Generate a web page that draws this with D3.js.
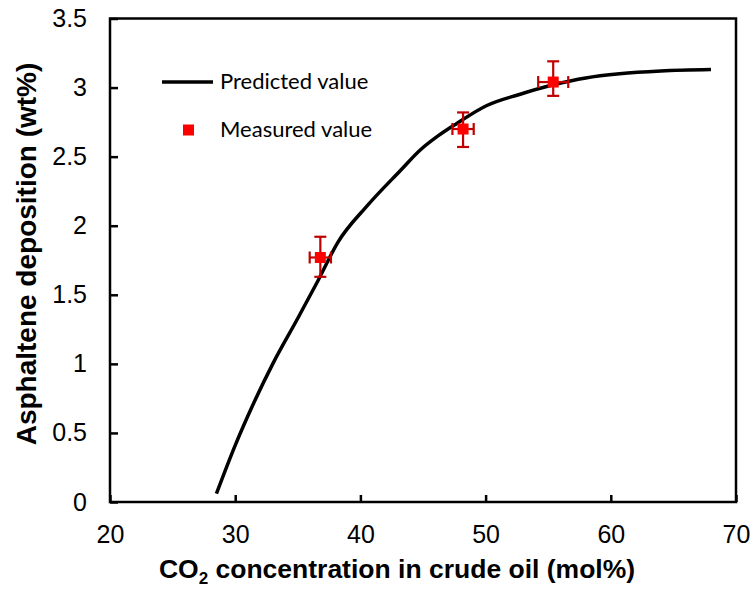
<!DOCTYPE html>
<html>
<head>
<meta charset="utf-8">
<script src="https://cdn.jsdelivr.net/npm/d3@7"></script>
<style>
  body { margin: 0; background: #fff; }
</style>
</head>
<body>
<div id="paper"></div>
<script>
// asphaltene deposition vs CO2 concentration

// predicted curve
const predX = [28.5, 30, 31.5, 33, 35, 36.6, 38.2, 40.5, 43.2, 44.8, 46.2, 47.7, 50.1, 52.7, 55.4, 58, 60.7, 64, 68];
const predY = [0.06, 0.41, 0.72, 1.0, 1.33, 1.6, 1.88, 2.14, 2.4, 2.55, 2.65, 2.74, 2.87, 2.95, 3.02, 3.07, 3.1, 3.12, 3.13];

// measured points with error bars
const measX = [36.8, 48.2, 55.4];
const measY = [1.77, 2.70, 3.04];
const xErr = [0.85, 0.85, 1.2];
const yErrUp = [0.15, 0.12, 0.15];
const yErrDown = [0.14, 0.13, 0.10];

const xTicks = [20, 30, 40, 50, 60, 70];
const yTicks = [0, 0.5, 1, 1.5, 2, 2.5, 3, 3.5];
const yTickLabels = ["0", "0.5", "1", "1.5", "2", "2.5", "3", "3.5"];

const W = 754, H = 592;
const m = { left: 110, right: 18, top: 18.5, bottom: 90 };

const svg = d3.select("#paper")
  .append("svg")
  .attr("width", W)
  .attr("height", H)
  .style("font-family", "Arial, 'Liberation Sans', sans-serif");

const x = d3.scaleLinear().domain([20, 70]).range([m.left, W - m.right]);
const y = d3.scaleLinear().domain([0, 3.5]).range([H - m.bottom, m.top]);

// axes, ticks pointing inwards
const xAxis = svg.append("g")
  .attr("transform", `translate(0,${y(0)})`)
  .call(d3.axisBottom(x).tickValues(xTicks).tickSizeInner(-7).tickSizeOuter(0).tickPadding(23).tickFormat(d3.format("d")));

const yAxis = svg.append("g")
  .attr("transform", `translate(${x(20)},0)`)
  .call(d3.axisLeft(y).tickValues(yTicks).tickSizeInner(-8).tickSizeOuter(0).tickPadding(23)
    .tickFormat((d, i) => yTickLabels[i]));

[xAxis, yAxis].forEach((g) => {
  g.select(".domain").remove();
  g.selectAll("line").attr("stroke", "#000").attr("stroke-width", 2.5);
  g.selectAll("text").attr("fill", "#000").style("font-size", "25px").style("font-family", "Arial, 'Liberation Sans', sans-serif");
});
yAxis.selectAll("text").attr("x", -23);

// frame
svg.append("rect")
  .attr("x", x(20))
  .attr("y", y(3.5))
  .attr("width", x(70) - x(20))
  .attr("height", y(0) - y(3.5))
  .attr("fill", "none")
  .attr("stroke", "#000")
  .attr("stroke-width", 2.5);

// predicted line
const pred = predX.map((d, i) => [d, predY[i]]);
svg.append("path")
  .datum(pred)
  .attr("fill", "none")
  .attr("stroke", "#000")
  .attr("stroke-width", 3.5)
  .attr("d", d3.line().x((d) => x(d[0])).y((d) => y(d[1])).curve(d3.curveMonotoneX));

// measured with error bars
const meas = measX.map((d, i) => ({ x: d, y: measY[i], ex: xErr[i], eu: yErrUp[i], ed: yErrDown[i] }));
const errCol = "#c00000";
const cap = 6;
const pts = svg.append("g").selectAll("g").data(meas).join("g");

pts.append("line")
  .attr("x1", (d) => x(d.x)).attr("x2", (d) => x(d.x))
  .attr("y1", (d) => y(d.y + d.eu)).attr("y2", (d) => y(d.y - d.ed));
pts.append("line")
  .attr("x1", (d) => x(d.x) - cap).attr("x2", (d) => x(d.x) + cap)
  .attr("y1", (d) => y(d.y + d.eu)).attr("y2", (d) => y(d.y + d.eu));
pts.append("line")
  .attr("x1", (d) => x(d.x) - cap).attr("x2", (d) => x(d.x) + cap)
  .attr("y1", (d) => y(d.y - d.ed)).attr("y2", (d) => y(d.y - d.ed));
pts.append("line")
  .attr("x1", (d) => x(d.x - d.ex)).attr("x2", (d) => x(d.x + d.ex))
  .attr("y1", (d) => y(d.y)).attr("y2", (d) => y(d.y));
pts.append("line")
  .attr("x1", (d) => x(d.x - d.ex)).attr("x2", (d) => x(d.x - d.ex))
  .attr("y1", (d) => y(d.y) - cap).attr("y2", (d) => y(d.y) + cap);
pts.append("line")
  .attr("x1", (d) => x(d.x + d.ex)).attr("x2", (d) => x(d.x + d.ex))
  .attr("y1", (d) => y(d.y) - cap).attr("y2", (d) => y(d.y) + cap);
pts.selectAll("line").attr("stroke", errCol).attr("stroke-width", 2.2);

pts.append("rect")
  .attr("x", (d) => x(d.x) - 5.5)
  .attr("y", (d) => y(d.y) - 5.5)
  .attr("width", 11)
  .attr("height", 11)
  .attr("fill", "#ff0000");

// legend
const leg = svg.append("g").style("font-family", "Lato, 'Open Sans', sans-serif").style("font-size", "22px");
leg.append("line").attr("x1", 162).attr("x2", 213).attr("y1", 82).attr("y2", 82)
  .attr("stroke", "#000").attr("stroke-width", 3.5);
leg.append("text").attr("x", 220).attr("y", 89).text("Predicted value");
leg.append("rect").attr("x", 183).attr("y", 124.5).attr("width", 11).attr("height", 11).attr("fill", "#ff0000");
leg.append("text").attr("x", 220).attr("y", 137).text("Measured value");

// axis titles
const xt = svg.append("text")
  .attr("x", 397)
  .attr("y", 578)
  .attr("text-anchor", "middle")
  .style("font-weight", "bold")
  .style("font-size", "26.5px");
xt.append("tspan").text("CO");
xt.append("tspan").attr("dy", 6).style("font-size", "17px").text("2");
xt.append("tspan").attr("dy", -6).text(" concentration in crude oil (mol%)");

svg.append("text")
  .attr("transform", "translate(36,254) rotate(-90)")
  .attr("text-anchor", "middle")
  .style("font-weight", "bold")
  .style("font-size", "28px")
  .text("Asphaltene deposition (wt%)");
</script>
</body>
</html>
